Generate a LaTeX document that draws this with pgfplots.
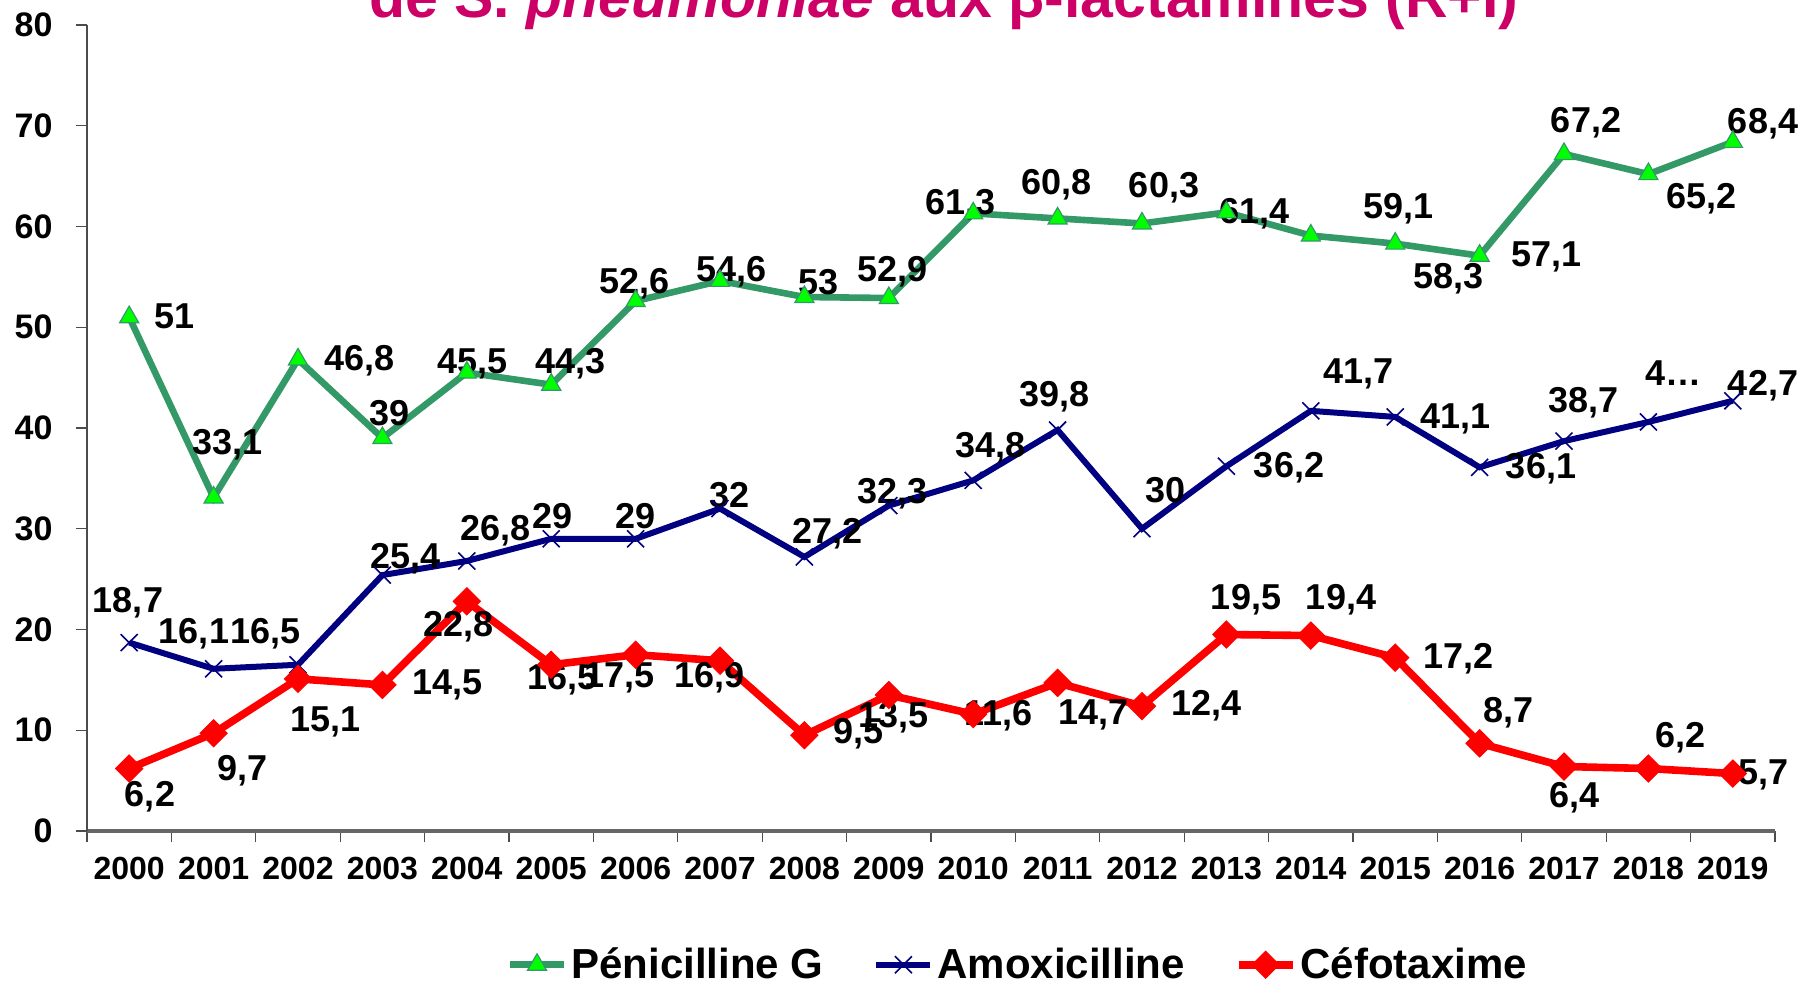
\documentclass[border=0pt]{standalone}
\usepackage{fontspec}
\setmainfont{Liberation Sans}
\usepackage{pgfplots}
\pgfplotsset{compat=1.18}
\definecolor{pgreen}{RGB}{51,153,102}
\definecolor{plime}{RGB}{0,255,0}
\definecolor{pnavy}{RGB}{0,0,128}
\definecolor{pred}{RGB}{255,0,0}
\definecolor{ptitle}{RGB}{204,0,102}
\newcommand\lab[5]{\node[font=\fontsize{18}{18}\selectfont\bfseries, inner sep=0pt, xshift=#3pt, yshift=#4pt] at (axis cs:#1,#2) {#5};}
\begin{document}
\begin{tikzpicture}
\begin{axis}[name=ax, at={(0,0)}, anchor=south west,
  scale only axis, width=844pt, height=403pt,
  xmin=-0.5, xmax=19.5, ymin=0, ymax=80,
  clip=false,
  axis x line*=bottom, axis y line*=left,
  axis line style={-, black!70, line width=0.8pt},
  x axis line style={line width=1.6pt, black!60},
  xtick={0,...,19},
  xticklabels={2000,2001,2002,2003,2004,2005,2006,2007,2008,2009,2010,2011,2012,2013,2014,2015,2016,2017,2018,2019},
  minor xtick={-0.5,0.5,...,19.5},
  ytick={0,10,...,80},
  tick align=outside,
  major tick length=5.5pt, minor tick length=5.5pt,
  tick style={black!70, line width=0.6pt},
  major x tick style={draw=none},
  /pgf/number format/assume math mode=true,
  y tick label style={font=\fontsize{17}{17}\selectfont\bfseries, xshift=-8.2pt},
  x tick label style={font=\fontsize{16}{16}\selectfont\bfseries, yshift=-4pt},
  legend style={at={(axis description cs:0.552,-0.166)}, anchor=center, draw=none,
    font=\fontsize{21}{21}\selectfont\bfseries,
    /tikz/every even column/.append style={column sep=23pt}},
  legend columns=3,
  legend image code/.code={\draw[mark repeat=2,mark phase=2] plot coordinates {(0pt,0pt) (13.5pt,0pt) (27pt,0pt)};},
]
\addplot[pgreen, line width=3.3pt, mark=triangle*, mark size=5.5pt,
  mark options={fill=plime, draw=pgreen, line width=0.6pt}] coordinates {
(0,51) (1,33.1) (2,46.8) (3,39) (4,45.5) (5,44.3) (6,52.6) (7,54.6) (8,53) (9,52.9)
(10,61.3) (11,60.8) (12,60.3) (13,61.4) (14,59.1) (15,58.3) (16,57.1) (17,67.2) (18,65.2) (19,68.4)};
\addplot[pnavy, line width=3pt, mark=x, mark size=6pt,
  mark options={draw=pnavy, line width=0.8pt}] coordinates {
(0,18.7) (1,16.1) (2,16.5) (3,25.4) (4,26.8) (5,29) (6,29) (7,32) (8,27.2) (9,32.3)
(10,34.8) (11,39.8) (12,30) (13,36.2) (14,41.7) (15,41.1) (16,36.1) (17,38.7) (18,40.6) (19,42.7)};
\addplot[pred, line width=3.8pt, mark=square*, mark size=4.8pt,
  mark options={rotate=45, fill=pred, draw=pred, line width=0.5pt}] coordinates {
(0,6.2) (1,9.7) (2,15.1) (3,14.5) (4,22.8) (5,16.5) (6,17.5) (7,16.9) (8,9.5) (9,13.5)
(10,11.6) (11,14.7) (12,12.4) (13,19.5) (14,19.4) (15,17.2) (16,8.7) (17,6.4) (18,6.2) (19,5.7)};
\legend{Pénicilline G, Amoxicilline, Céfotaxime}
% green labels
\lab{0}{51}{22.6}{0.6}{51}
\lab{1}{33.1}{6.9}{26.6}{33,1}
\lab{2}{46.8}{30.7}{-0.6}{46,8}
\lab{3}{39}{3.5}{12.7}{39}
\lab{4}{45.5}{2.9}{4.1}{45,5}
\lab{5}{44.3}{9.8}{10.4}{44,3}
\lab{6}{52.6}{-0.6}{8.7}{52,6}
\lab{7}{54.6}{5.8}{4.6}{54,6}
\lab{8}{53}{6.9}{7.5}{53}
\lab{9}{52.9}{1.7}{13.3}{52,9}
\lab{10}{61.3}{-6.4}{4.1}{61,3}
\lab{11}{60.8}{-0.6}{16.8}{60,8}
\lab{12}{60.3}{11}{17.9}{60,3}
\lab{13}{61.4}{13.9}{-0.6}{61,4}
\lab{14}{59.1}{44}{13.3}{59,1}
\lab{15}{58.3}{26.6}{-17.4}{58,3}
\lab{16}{57.1}{33.6}{-0.6}{57,1}
\lab{17}{67.2}{11}{15.6}{67,2}
\lab{18}{65.2}{26.6}{-12.2}{65,2}
\lab{19}{68.4}{15.1}{9.3}{68,4}
% blue labels
\lab{0}{18.7}{-0.6}{19.7}{18,7}
\lab{1}{16.1}{-9.8}{17.4}{16,1}
\lab{2}{16.5}{-16.2}{15.6}{16,5}
\lab{3}{25.4}{11.6}{8.1}{25,4}
\lab{4}{26.8}{14.5}{15.1}{26,8}
\lab{5}{29}{0.6}{11.6}{29}
\lab{6}{29}{0}{11.6}{29}
\lab{7}{32}{4.6}{6.9}{32}
\lab{8}{27.2}{11.6}{11.6}{27,2}
\lab{9}{32.3}{1.7}{5.8}{32,3}
\lab{10}{34.8}{8.7}{16.2}{34,8}
\lab{11}{39.8}{-1.7}{16.8}{39,8}
\lab{12}{30}{11.6}{19.1}{30}
\lab{13}{36.2}{31.3}{-0.6}{36,2}
\lab{14}{41.7}{23.7}{18.5}{41,7}
\lab{15}{41.1}{30.1}{-1.2}{41,1}
\lab{16}{36.1}{30.7}{-0.6}{36,1}
\lab{17}{38.7}{9.8}{19.1}{38,7}
\lab{18}{40.6}{12.7}{24.3}{4…}
\lab{19}{42.7}{15.1}{7.5}{42,7}
% red labels
\lab{0}{6.2}{10.4}{-13.9}{6,2}
\lab{1}{9.7}{14.5}{-18.5}{9,7}
\lab{2}{15.1}{13.9}{-21.4}{15,1}
\lab{3}{14.5}{32.4}{0}{14,5}
\lab{4}{22.8}{-4.1}{-12.7}{22,8}
\lab{5}{16.5}{5.8}{-7.5}{16,5}
\lab{6}{17.5}{-8.1}{-11.6}{17,5}
\lab{7}{16.9}{-5.2}{-8.7}{16,9}
\lab{8}{9.5}{27.2}{0.6}{9,5}
\lab{9}{13.5}{2.3}{-11.6}{13,5}
\lab{10}{11.6}{12.7}{-0.6}{11,6}
\lab{11}{14.7}{17.9}{-16.2}{14,7}
\lab{12}{12.4}{32.4}{0}{12,4}
\lab{13}{19.5}{9.8}{17.4}{19,5}
\lab{14}{19.4}{15.1}{17.9}{19,4}
\lab{15}{17.2}{31.8}{-0.6}{17,2}
\lab{16}{8.7}{14.5}{15.1}{8,7}
\lab{17}{6.4}{5.2}{-15.6}{6,4}
\lab{18}{6.2}{16.2}{15.6}{6,2}
\lab{19}{5.7}{15.1}{-0.6}{5,7}
\end{axis}
\node[anchor=base, text=ptitle, inner sep=0pt, font=\fontsize{29.5}{29.5}\selectfont\bfseries]
  at ([xshift=428.5pt,yshift=406.7pt]ax.south west) {de S. \textit{pneumoniae} aux β-lactamines (R+I)};
\pgfresetboundingbox
\path[use as bounding box] ([xshift=-43.5pt,yshift=-77.5pt]ax.south west) rectangle ([xshift=20.5pt,yshift=12.5pt]ax.north east);
\end{tikzpicture}
\end{document}
